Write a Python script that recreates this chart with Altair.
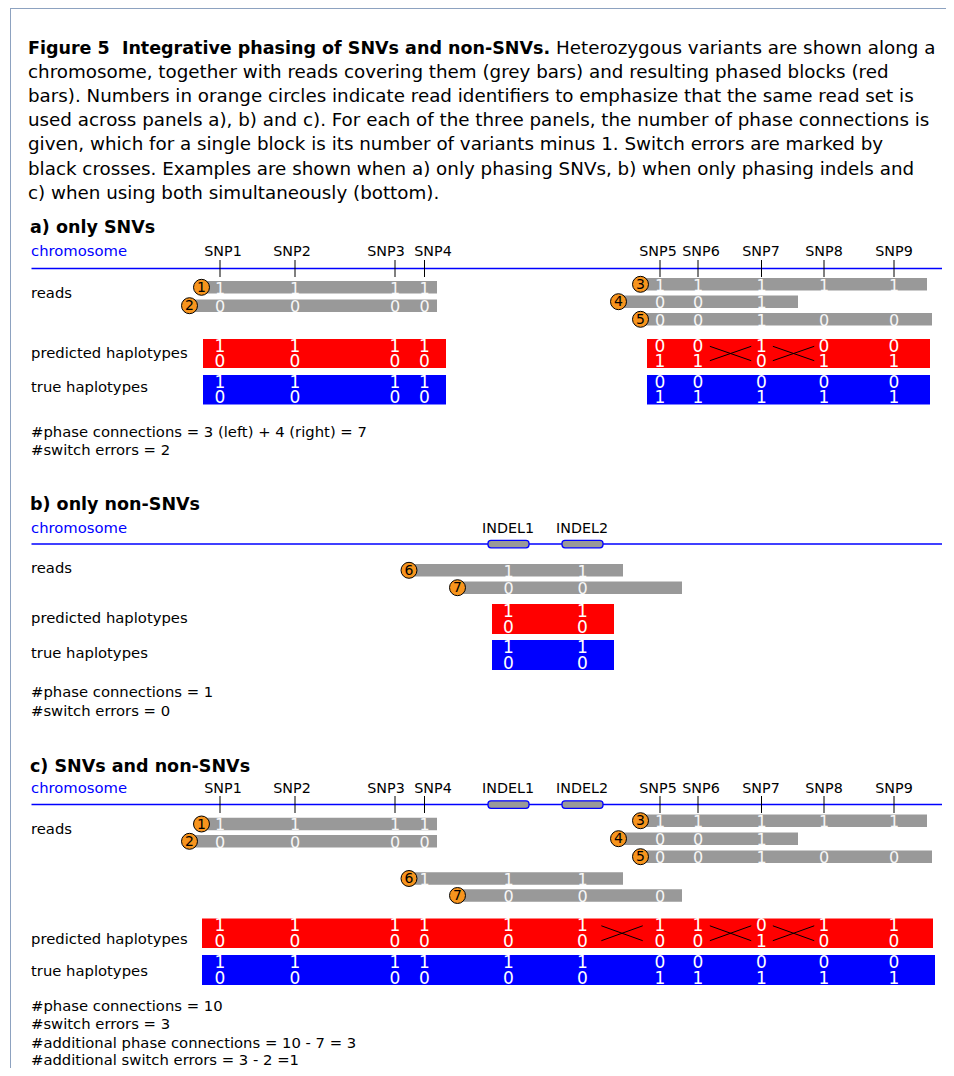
import altair as alt
import pandas as pd

# ---------------- values ----------------
CAPTION_BOLD = "Figure 5\u00a0\u00a0Integrative phasing of SNVs and non-SNVs."
CAPTION_LINES = [
    "Heterozygous variants are shown along a",
    "chromosome, together with reads covering them (grey bars) and resulting phased blocks (red",
    "bars). Numbers in orange circles indicate read identifiers to emphasize that the same read set is",
    "used across panels a), b) and c). For each of the three panels, the number of phase connections is",
    "given, which for a single block is its number of variants minus 1. Switch errors are marked by",
    "black crosses. Examples are shown when a) only phasing SNVs, b) when only phasing indels and",
    "c) when using both simultaneously (bottom).",
]

PANEL_TITLES = ["a) only SNVs", "b) only non-SNVs", "c) SNVs and non-SNVs"]
ROW_LABELS = ["chromosome", "reads", "predicted haplotypes", "true haplotypes"]

SNP_NAMES = ["SNP1", "SNP2", "SNP3", "SNP4", "SNP5", "SNP6", "SNP7", "SNP8", "SNP9"]
SNP_POS = [220, 295, 395, 424.5, 660, 698, 761.5, 824, 894]
SNP_LABEL_POS = [223, 292, 386, 433, 658, 701, 761, 824, 894]
INDEL_NAMES = ["INDEL1", "INDEL2"]
INDEL_START = [488, 562]
INDEL_END = [529, 603]
INDEL_LABEL_POS = [508, 582]

READ_IDS = [1, 2, 3, 4, 5, 6, 7]
READ_START = [201.5, 189.5, 640.5, 618.5, 640.5, 409, 457.5]
READ_END = [437, 437, 927, 798, 932, 623, 682]
READ_VARIANTS = [
    ["SNP1", "SNP2", "SNP3", "SNP4"],
    ["SNP1", "SNP2", "SNP3", "SNP4"],
    ["SNP5", "SNP6", "SNP7", "SNP8", "SNP9"],
    ["SNP5", "SNP6", "SNP7"],
    ["SNP5", "SNP6", "SNP7", "SNP8", "SNP9"],
    ["SNP4", "INDEL1", "INDEL2"],
    ["INDEL1", "INDEL2", "SNP5"],
]
READ_ALLELES = ["1111", "0000", "11111", "001", "00100", "111", "000"]

PANEL_VARIANTS = [SNP_NAMES, INDEL_NAMES, SNP_NAMES[:4] + INDEL_NAMES + SNP_NAMES[4:]]
PANEL_READS = [[1, 2, 3, 4, 5], [6, 7], [1, 2, 3, 4, 5, 6, 7]]
PRED_BLOCKS = [[(203, 446), (647, 930)], [(492, 614)], [(202, 933)]]
TRUE_BLOCKS = [[(203, 446), (647, 930)], [(492, 614)], [(202, 935)]]
PRED_HAP1 = ["111100100", "11", "11111111011"]
PRED_HAP2 = ["000011011", "00", "00000000100"]
TRUE_HAP1 = ["111100000", "11", "11111100000"]
TRUE_HAP2 = ["000011111", "00", "00000011111"]
SWITCH_ERRORS = [
    [("SNP6", "SNP7"), ("SNP7", "SNP8")],
    [],
    [("INDEL2", "SNP5"), ("SNP6", "SNP7"), ("SNP7", "SNP8")],
]
STATS = [
    ["#phase connections = 3 (left) + 4 (right) = 7", "#switch errors = 2"],
    ["#phase connections = 1", "#switch errors = 0"],
    ["#phase connections = 10", "#switch errors = 3",
     "#additional phase connections = 10 - 7 = 3", "#additional switch errors = 3 - 2 =1"],
]

# ---------------- layout (per panel rows) ----------------
TITLE_Y = [233, 510, 771.5]
CHROM_Y = [268.5, 544, 804.5]
LABEL_Y = [256.3, 532.5, 793.3]
READS_LABEL_Y = [298, 573.3, 834]
READ_ROW_Y = [
    {1: 287.3, 2: 305.7, 3: 284.3, 4: 301.7, 5: 319.3},
    {6: 570.3, 7: 587.7},
    {1: 824, 2: 841.3, 3: 820.7, 4: 838.7, 5: 856.7, 6: 878.5, 7: 895.5},
]
PRED_Y = [(339, 368), (604, 634), (918.5, 948)]
TRUE_Y = [(375, 404.5), (640, 670), (955, 985)]
PRED_LABEL_Y = [358.3, 622.7, 944]
TRUE_LABEL_Y = [391.7, 658.3, 976]
STATS_Y = [[436.5, 454.5], [697, 715.5], [1011, 1029.3, 1047.5, 1065.3]]
CAPTION_Y0, CAPTION_DY = 53.5, 24.2

FONT = "DejaVu Sans"
VPOS = dict(zip(SNP_NAMES + INDEL_NAMES, SNP_POS + [(a + b) / 2 for a, b in zip(INDEL_START, INDEL_END)]))
LPOS = dict(zip(SNP_NAMES + INDEL_NAMES, SNP_LABEL_POS + INDEL_LABEL_POS))

XS = alt.Scale(domain=[8, 946], nice=False, zero=False)
YS = alt.Scale(domain=[8, 1068], nice=False, zero=False, reverse=True)


def X(f="x"):
    return alt.X(f"{f}:Q", scale=XS, axis=None)


def Y(f="y"):
    return alt.Y(f"{f}:Q", scale=YS, axis=None)


# ---------------- build tables ----------------
chrom, ticks, indels, vlabels = [], [], [], []
reads, alleles, circles = [], [], []
blocks, digits, crosses = [], [], []
labels_black, labels_blue, titles = [], [], []

for p in range(3):
    cy = CHROM_Y[p]
    chrom.append(dict(x=31.5, x1=942, y=cy))
    titles.append(dict(x=30, y=TITLE_Y[p], text=PANEL_TITLES[p]))
    labels_blue.append(dict(x=31, y=LABEL_Y[p], text=ROW_LABELS[0]))
    labels_black.append(dict(x=31, y=READS_LABEL_Y[p], text=ROW_LABELS[1]))
    labels_black.append(dict(x=31, y=PRED_LABEL_Y[p], text=ROW_LABELS[2]))
    labels_black.append(dict(x=31, y=TRUE_LABEL_Y[p], text=ROW_LABELS[3]))
    for i, s in enumerate(STATS[p]):
        labels_black.append(dict(x=31, y=STATS_Y[p][i], text=s))
    for v in PANEL_VARIANTS[p]:
        vlabels.append(dict(x=LPOS[v], y=LABEL_Y[p], text=v))
        if v.startswith("SNP"):
            ticks.append(dict(x=VPOS[v], y=cy - 8.5, y1=cy + 8.5))
        else:
            k = INDEL_NAMES.index(v)
            indels.append(dict(x=INDEL_START[k], x1=INDEL_END[k], y=cy - 3.7, y1=cy + 3.8))
    for r in PANEL_READS[p]:
        k = READ_IDS.index(r)
        ry = READ_ROW_Y[p][r]
        reads.append(dict(x=READ_START[k], x1=READ_END[k], y=ry))
        circles.append(dict(x=READ_START[k], y=ry, text=str(r)))
        for v, a in zip(READ_VARIANTS[k], READ_ALLELES[k]):
            if v in PANEL_VARIANTS[p]:
                alleles.append(dict(x=VPOS[v], y=ry + 6.3, text=a))
    for (y0, y1), blist, h1, h2, col in [
        (PRED_Y[p], PRED_BLOCKS[p], PRED_HAP1[p], PRED_HAP2[p], "#ff0000"),
        (TRUE_Y[p], TRUE_BLOCKS[p], TRUE_HAP1[p], TRUE_HAP2[p], "#0000ff"),
    ]:
        for b0, b1 in blist:
            blocks.append(dict(x=b0, x1=b1, y=y0, y1=y1, color=col))
        for v, t1, t2 in zip(PANEL_VARIANTS[p], h1, h2):
            digits.append(dict(x=VPOS[v], y=y0 + 12.7, text=t1))
            digits.append(dict(x=VPOS[v], y=y1 - 1.4, text=t2))
    y0, y1 = PRED_Y[p]
    for l, r in SWITCH_ERRORS[p]:
        mid = (VPOS[l] + VPOS[r]) / 2 + 0.8
        crosses.append(dict(x=mid - 20.7, x1=mid + 20.7, y=y0 + 7.3, y1=y1 - 7.3))
        crosses.append(dict(x=mid - 20.7, x1=mid + 20.7, y=y1 - 7.3, y1=y0 + 7.3))

caption = [dict(x=28, y=CAPTION_Y0 + i * CAPTION_DY, text=t) for i, t in enumerate(CAPTION_LINES)]
caption[0]["x"] = 556
caption_bold = [dict(x=28, y=CAPTION_Y0, text=CAPTION_BOLD)]
border_h = [dict(x=10.5, x1=946, y=8.5)]
border_v = [dict(x=10.5, y=8, y1=1068)]


def D(rows):
    return alt.Data(values=rows)


layers = [
    alt.Chart(D(border_h)).mark_rule(color="#8da2c0", strokeWidth=1).encode(x=X(), x2="x1:Q", y=Y()),
    alt.Chart(D(border_v)).mark_rule(color="#8da2c0", strokeWidth=1).encode(x=X(), y=Y(), y2="y1:Q"),
    alt.Chart(D(chrom)).mark_rule(color="#0000ff", strokeWidth=1.5).encode(x=X(), x2="x1:Q", y=Y()),
    alt.Chart(D(ticks)).mark_rule(color="black", strokeWidth=1).encode(x=X(), y=Y(), y2="y1:Q"),
    alt.Chart(D(indels)).mark_rect(fill="#999999", stroke="#0000ff", strokeWidth=1.3, cornerRadius=3).encode(
        x=X(), x2="x1:Q", y=Y(), y2="y1:Q"),
    alt.Chart(D(reads)).mark_rule(color="#999999", strokeWidth=12.5, strokeCap="butt").encode(x=X(), x2="x1:Q", y=Y()),
    alt.Chart(D(alleles)).mark_text(font=FONT, fontSize=16, color="white", opacity=0.92, align="center",
                                    baseline="alphabetic").encode(x=X(), y=Y(), text="text:N"),
    alt.Chart(D(circles)).mark_circle(size=255, color="#f7941d", opacity=1, stroke="black", strokeWidth=1).encode(
        x=X(), y=Y()),
    alt.Chart(D(circles)).mark_text(font=FONT, fontSize=14, color="black", align="center",
                                    baseline="middle", dy=0.5).encode(x=X(), y=Y(), text="text:N"),
    alt.Chart(D(blocks)).mark_rect().encode(x=X(), x2="x1:Q", y=Y(), y2="y1:Q",
                                            color=alt.Color("color:N", scale=None)),
    alt.Chart(D(digits)).mark_text(font=FONT, fontSize=17, color="white", align="center",
                                   baseline="alphabetic").encode(x=X(), y=Y(), text="text:N"),
    alt.Chart(D(crosses)).mark_rule(color="black", strokeWidth=1).encode(x=X(), x2="x1:Q", y=Y(), y2="y1:Q"),
    alt.Chart(D(vlabels)).mark_text(font=FONT, fontSize=14.3, color="black", align="center",
                                    baseline="alphabetic").encode(x=X(), y=Y(), text="text:N"),
    alt.Chart(D(labels_blue)).mark_text(font=FONT, fontSize=14.8, color="#0000ff", align="left",
                                        baseline="alphabetic").encode(x=X(), y=Y(), text="text:N"),
    alt.Chart(D(labels_black)).mark_text(font=FONT, fontSize=14.8, color="black", align="left",
                                         baseline="alphabetic").encode(x=X(), y=Y(), text="text:N"),
    alt.Chart(D(titles)).mark_text(font=FONT, fontSize=17.5, fontWeight="bold", color="black", align="left",
                                   baseline="alphabetic").encode(x=X(), y=Y(), text="text:N"),
    alt.Chart(D(caption_bold)).mark_text(font=FONT, fontSize=17.5, fontWeight="bold", color="black", align="left",
                                         baseline="alphabetic").encode(x=X(), y=Y(), text="text:N"),
    alt.Chart(D(caption)).mark_text(font=FONT, fontSize=18.3, color="black", align="left",
                                    baseline="alphabetic").encode(x=X(), y=Y(), text="text:N"),
]

chart = alt.layer(*layers).properties(
    width=938, height=1060, padding=0, autosize="none", background="white"
).configure_view(stroke=None)

chart.save("out.html", embed_options={"renderer": "svg", "actions": False})
